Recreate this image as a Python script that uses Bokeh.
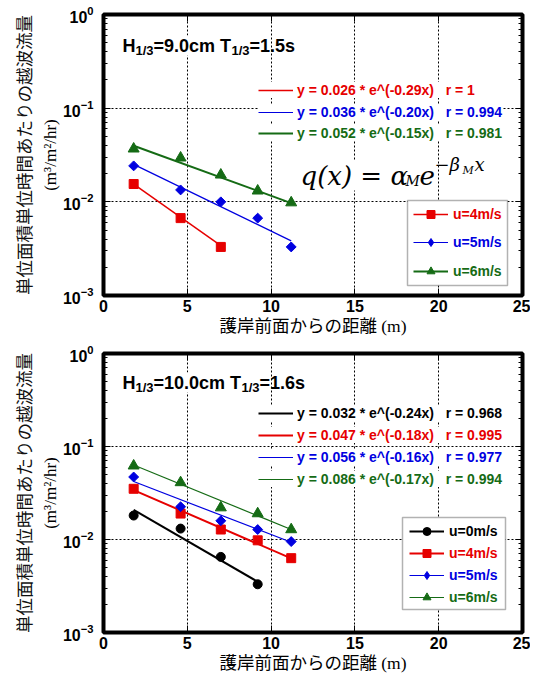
import math
from bokeh.plotting import figure
from bokeh.models import (Label, Legend, LegendItem, LogAxis, LinearAxis, BoxAnnotation,
                          FixedTicker, LogTicker, Range1d)
from bokeh.layouts import column
from bokeh.embed import file_html
from bokeh.resources import INLINE

# ---------------- data ----------------
dist = [1.8, 4.6, 7.0, 9.2, 11.2]          # distance from seawall (m)
x_ticks = [0, 5, 10, 15, 20, 25]

# top panel: H1/3 = 9.0 cm, T1/3 = 1.5 s
top_H, top_T = "9.0", "1.5"
top_u4 = [0.0155, 0.0067, 0.0033]
top_u5 = [0.0242, 0.0134, 0.0100, 0.0067, 0.0033]
top_u6 = [0.0368, 0.0295, 0.0194, 0.0131, 0.0098]
top_alpha = [0.026, 0.036, 0.052]
top_beta = [-0.29, -0.20, -0.15]
top_r = ["1", "0.994", "0.981"]
top_names = ["u=4m/s", "u=5m/s", "u=6m/s"]

# bottom panel: H1/3 = 10.0 cm, T1/3 = 1.6 s
bot_H, bot_T = "10.0", "1.6"
bot_u0 = [0.0181, 0.0131, 0.0065, 0.0033]
bot_u4 = [0.0351, 0.0190, 0.0128, 0.0098, 0.0063]
bot_u5 = [0.0470, 0.0225, 0.0159, 0.0128, 0.0095]
bot_u6 = [0.0620, 0.0410, 0.0220, 0.0190, 0.0128]
bot_alpha = [0.032, 0.047, 0.056, 0.086]
bot_beta = [-0.24, -0.18, -0.16, -0.17]
bot_r = ["0.968", "0.995", "0.977", "0.994"]
bot_names = ["u=0m/s", "u=4m/s", "u=5m/s", "u=6m/s"]

y_title = "単位面積単位時間あたりの越波流量"
y_unit = "(m³/m²/hr)"
x_title = "護岸前面からの距離 (m)"

# ---------------- styles ----------------
BLACK, RED, BLUE, GREEN = "#000000", "#e60000", "#0000e0", "#156b15"
SANS, JP, SERIF, MATH = "Liberation Sans", "Noto Sans CJK JP", "Liberation Serif", "DejaVu Serif"
MIXED = "'Liberation Serif', 'Noto Sans CJK JP'"
W = 530
LEFT = 103
FW = 419


def build(height, top_border, FH, H, T, series, alphas, betas, rs, names,
          eq_rows, eq_x, leg_rows, leg_x, box, title_y, formula=None):
    bottom_border = height - top_border - FH
    p = figure(width=W, height=height, output_backend="svg", toolbar_location=None,
               x_range=Range1d(0, 25), y_range=Range1d(1e-3, 1), y_axis_type="log",
               min_border_left=LEFT, min_border_right=W - LEFT - FW,
               min_border_top=top_border, min_border_bottom=bottom_border,
               background_fill_color="white", border_fill_color="white")
    p.outline_line_color = "black"
    p.outline_line_width = 4

    def X(px):
        return px * 25.0 / FW

    def Y(py):
        return 10 ** (-3 + 3.0 * py / FH)

    # axes
    xt = FixedTicker(ticks=x_ticks)
    p.xaxis.ticker = xt
    p.yaxis.ticker = LogTicker(num_minor_ticks=10)
    for ax in [p.xaxis[0], p.yaxis[0]]:
        ax.axis_line_color = None
        ax.major_tick_in = 7
        ax.major_tick_out = 0
        ax.minor_tick_in = 4
        ax.minor_tick_out = 0
        ax.major_label_text_font = SANS
        ax.major_label_text_font_style = "bold"
        ax.major_label_text_font_size = "16px"
        ax.major_label_text_color = "black"
        ax.axis_label_text_font_style = "normal"
        ax.axis_label_text_color = "black"
    p.xaxis.minor_tick_line_color = None
    p.xaxis.major_label_standoff = 4
    p.xaxis.axis_label = x_title
    p.xaxis.axis_label_text_font = MIXED
    p.xaxis.axis_label_text_font_size = "17.5px"
    p.xaxis.axis_label_standoff = 1
    p.yaxis.major_label_standoff = 10
    p.yaxis.axis_label = y_unit
    p.yaxis.axis_label_text_font = SERIF
    p.yaxis.axis_label_text_font_size = "17px"
    p.yaxis.axis_label_standoff = 0

    outer = LogAxis(ticker=FixedTicker(ticks=[]), axis_label=y_title,
                    axis_label_text_font=JP, axis_label_text_font_size="17.5px",
                    axis_label_text_font_style="normal", axis_label_text_color="#111111",
                    axis_label_standoff=2, axis_line_color=None,
                    major_tick_line_color=None, minor_tick_line_color=None,
                    major_label_standoff=0)
    p.add_layout(outer, "left")

    top_ax = LinearAxis(ticker=FixedTicker(ticks=x_ticks))
    right_ax = LogAxis(ticker=LogTicker(num_minor_ticks=10))
    for ax in [top_ax, right_ax]:
        ax.axis_line_color = None
        ax.major_tick_in = 7
        ax.major_tick_out = 0
        ax.minor_tick_in = 4
        ax.minor_tick_out = 0
        ax.major_label_text_font_size = "2px"
        ax.major_label_text_color = None
        ax.major_label_standoff = 0
    top_ax.minor_tick_line_color = None
    p.add_layout(top_ax, "above")
    p.add_layout(right_ax, "right")

    # grid
    p.xgrid.ticker = xt
    for g in [p.xgrid[0], p.ygrid[0]]:
        g.grid_line_color = "black"
        g.grid_line_dash = "2 2"
        g.grid_line_width = 1
    p.ygrid.minor_grid_line_color = None

    # data
    fits, leg_marks = [], []
    for (xs, ys, marker, color, size, lw), a, b in zip(series, alphas, betas):
        xf = [xs[0], xs[-1]]
        yf = [a * math.exp(b * v) for v in xf]
        fr = p.line(xf, yf, line_color=color, line_width=lw)
        if marker == "diamond":
            p.scatter(xs, ys, marker="square", size=size, angle=math.pi / 4,
                      fill_color=color, line_color=color)
            lm = p.scatter(xs, ys, marker="diamond", size=size, fill_color=color,
                           line_color=color, visible=False)
        else:
            lm = p.scatter(xs, ys, marker=marker, size=size,
                           fill_color=color, line_color=color)
        fits.append(fr)
        leg_marks.append(lm)

    # equation rows
    for (fr, a, b, r, row_y, s) in zip(fits, alphas, betas, rs, eq_rows, series):
        color = s[3]
        txt = "y = %.3f * e^(%.2fx)   r = %s" % (a, b, r)
        leg = Legend(items=[LegendItem(label=txt, renderers=[fr])],
                     location=(eq_x, row_y - 8), orientation="vertical",
                     glyph_width=35, glyph_height=16, label_height=16,
                     label_standoff=4, padding=0, margin=0, spacing=0,
                     border_line_color=None, background_fill_color="white",
                     background_fill_alpha=1.0,
                     label_text_font=SANS, label_text_font_style="bold",
                     label_text_font_size="14px", label_text_color=color)
        p.add_layout(leg)

    # legend box
    bx0, bx1, by0, by1 = box
    p.add_layout(BoxAnnotation(left=X(bx0), right=X(bx1), bottom=Y(by0), top=Y(by1),
                               fill_color="white", fill_alpha=1.0,
                               line_color="black", line_width=1.5, level="annotation"))
    for (fr, lm, name, row_y, s) in zip(fits, leg_marks, names, leg_rows, series):
        color = s[3]
        leg = Legend(items=[LegendItem(label=name, renderers=[fr, lm])],
                     location=(leg_x, row_y - 10),
                     glyph_width=35, glyph_height=20, label_height=20,
                     label_standoff=5, padding=0, margin=0, spacing=0,
                     border_line_color=None, background_fill_alpha=0.0,
                     label_text_font=SANS, label_text_font_style="bold",
                     label_text_font_size="14px", label_text_color=color)
        p.add_layout(leg)

    # title  H1/3=..cm T1/3=..s
    tx, ty = X(19), Y(title_y)
    main_kw = dict(text_font=SANS, text_font_style="bold", text_font_size="18px",
                   text_color="black", text_baseline="alphabetic")
    sub_kw = dict(text_font=SANS, text_font_style="bold", text_font_size="13px",
                  text_color="black", text_baseline="alphabetic")
    mid = "=%scm T" % H
    mid_w = 78 if len(H) == 3 else 88
    p.add_layout(Label(x=tx, y=ty, x_offset=0, text="H", **main_kw))
    p.add_layout(Label(x=tx, y=ty, x_offset=13, y_offset=-5, text="1/3", **sub_kw))
    p.add_layout(Label(x=tx, y=ty, x_offset=31, text=mid, background_fill_color="white", **main_kw))
    p.add_layout(Label(x=tx, y=ty, x_offset=31 + mid_w, y_offset=-5, text="1/3", **sub_kw))
    p.add_layout(Label(x=tx, y=ty, x_offset=49 + mid_w, text="=%ss" % T, **main_kw))

    # formula  q(x) = alpha_M e^(-beta_M x)
    if formula is not None:
        fx, fy = X(formula[0]), Y(formula[1])
        mk = dict(text_font=MATH, text_font_style="italic", text_color="black",
                  text_baseline="alphabetic")
        p.add_layout(Label(x=fx, y=fy, text="q(x) = α", text_font_size="26px",
                           background_fill_color="white", **mk))
        p.add_layout(Label(x=fx, y=fy, x_offset=105, y_offset=-5, text="M", text_font_size="14px", **mk))
        p.add_layout(Label(x=fx, y=fy, x_offset=119, text="e", text_font_size="26px", **mk))
        p.add_layout(Label(x=fx, y=fy, x_offset=134, y_offset=11, text="−β", text_font_size="18px", **mk))
        p.add_layout(Label(x=fx, y=fy, x_offset=162, y_offset=5, text="M", text_font_size="11px", **mk))
        p.add_layout(Label(x=fx, y=fy, x_offset=174, y_offset=11, text="x", text_font_size="18px", **mk))
    return p


top_series = [
    (dist[:3], top_u4, "square", RED, 9, 1.5),
    (dist, top_u5, "diamond", BLUE, 7, 1.2),
    (dist, top_u6, "triangle", GREEN, 11, 2.0),
]
bot_series = [
    (dist[:4], bot_u0, "circle", BLACK, 9, 2.0),
    (dist, bot_u4, "square", RED, 9, 2.0),
    (dist, bot_u5, "diamond", BLUE, 7, 1.2),
    (dist, bot_u6, "triangle", GREEN, 11, 1.2),
]

p1 = build(340, 14, 281, top_H, top_T, top_series, top_alpha, top_beta, top_r, top_names,
           eq_rows=[205, 183, 162], eq_x=155,
           leg_rows=[81, 53, 24], leg_x=310, box=(304, 404, 10, 95),
           title_y=250, formula=(197, 120))
p2 = build(335, 13, 279, bot_H, bot_T, bot_series, bot_alpha, bot_beta, bot_r, bot_names,
           eq_rows=[219, 197, 175, 153], eq_x=155,
           leg_rows=[101, 79, 57, 35], leg_x=306, box=(299, 402, 23, 115),
           title_y=250)

layout = column(p1, p2, spacing=0)
open("out.html", "w").write(file_html(layout, INLINE))
